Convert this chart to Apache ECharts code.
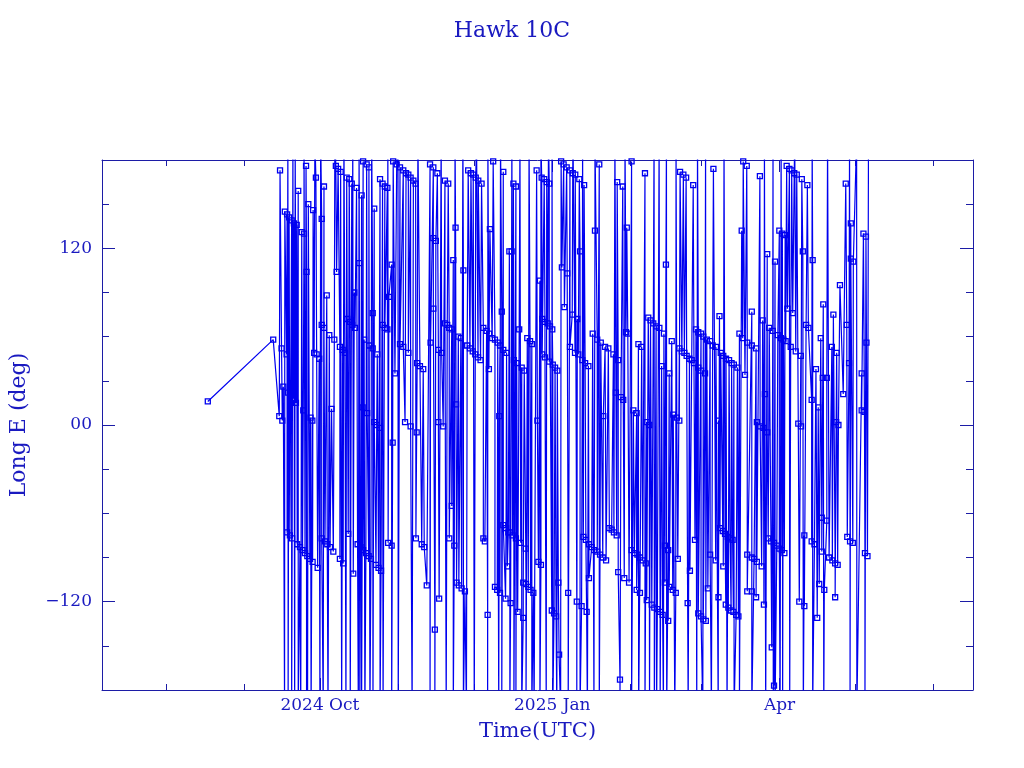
<!DOCTYPE html>
<html>
<head>
<meta charset="utf-8">
<script src="https://cdn.jsdelivr.net/npm/echarts@6/dist/echarts.min.js"></script>
<style>html,body{margin:0;padding:0;background:#fff}#c{width:1024px;height:768px}</style>
</head>
<body>
<div id="c"></div>
<script>
// Days are counted from 2024-10-01 00:00 UTC; longitudes in degrees East.
const markerDays = [
-44.4,-18.5,-16.1,-14.9,-15.8,-15.2,-14.5,-13.9,-13.2,-13.0,-13.0,-12.6,-12.2,-11.9,-11.6,-11.2,-11.0,-10.6,-10.3,-9.5,
-9.2,-9.0,-8.6,-7.9,-7.2,-6.9,-6.6,-6.3,-5.9,-5.5,-5.3,-5.0,-4.6,-4.0,-3.7,-3.0,-2.9,-2.7,-2.3,-1.6,
-1.3,-0.9,-0.3,0.7,0.7,0.7,1.6,1.6,2.0,2.7,2.9,3.7,4.0,4.6,5.3,5.7,6.3,6.6,7.2,7.9,
7.9,8.2,9.0,9.2,9.9,10.6,10.8,11.2,11.6,11.9,12.6,12.8,13.2,13.6,13.9,14.5,14.9,15.6,16.1,16.5,
16.9,17.1,17.1,17.5,18.2,18.5,18.7,19.3,19.4,19.5,20.2,20.9,20.9,21.5,21.5,22.2,22.5,22.7,23.2,23.8,
23.8,24.2,24.8,24.8,25.7,25.7,26.7,26.7,27.0,27.3,28.4,28.4,28.8,29.0,29.7,30.4,31.7,31.7,33.0,33.0,
33.7,34.1,35.0,35.0,35.9,35.9,37.0,37.9,38.0,38.3,38.5,39.6,40.3,40.9,41.3,42.3,43.6,43.8,44.9,44.9,
44.9,45.5,45.9,46.5,46.9,46.9,47.2,48.2,48.8,49.5,49.5,50.4,50.8,51.2,51.2,52.2,52.2,52.8,53.2,53.7,
53.9,54.1,54.8,55.0,55.8,56.1,56.8,57.4,58.3,58.7,59.4,59.8,60.5,60.7,61.5,61.7,62.6,62.7,63.6,64.0,
64.7,64.7,65.3,66.0,66.4,66.9,67.0,67.3,68.2,68.6,69.3,69.3,70.2,70.4,71.0,71.3,71.3,72.0,72.6,72.6,
72.6,73.5,73.7,73.9,74.2,74.6,75.0,75.2,75.5,75.9,76.3,76.6,76.8,77.6,77.6,77.9,78.3,78.9,79.5,79.9,
80.5,80.5,80.9,81.5,81.6,82.1,82.5,83.2,83.4,83.9,84.5,85.8,86.1,86.5,87.1,87.5,87.8,88.0,88.0,88.8,
89.1,89.1,89.8,90.2,90.8,90.8,91.1,91.8,92.0,92.2,92.7,93.1,93.5,94.0,94.4,94.7,95.5,95.8,96.5,96.8,
97.7,97.9,98.3,99.0,99.0,99.9,100.1,101.0,101.1,101.7,101.9,102.3,102.7,103.0,103.6,103.9,104.3,104.6,105.0,105.3,
105.6,106.3,106.5,106.5,107.6,108.0,108.6,108.9,109.8,109.8,110.6,110.9,111.2,112.0,112.2,112.9,113.3,114.2,114.6,115.5,
116.2,116.4,117.2,117.5,117.7,118.1,118.1,118.8,119.2,119.9,120.1,120.5,121.2,121.5,121.9,122.4,123.4,123.4,124.1,124.5,
125.4,125.4,125.7,126.1,126.7,126.7,127.4,127.8,128.7,129.0,129.4,129.4,130.0,130.4,130.9,131.4,132.0,132.4,133.1,133.6,
134.4,134.7,135.3,135.7,136.2,136.6,136.6,137.0,137.9,137.9,138.3,138.3,139.3,139.7,139.9,140.9,141.3,141.7,142.3,142.3,
142.6,143.3,143.9,144.3,145.0,145.2,145.6,146.3,146.5,147.2,147.8,148.1,148.5,148.9,149.8,149.8,149.8,150.9,150.9,150.9,
151.8,151.8,152.5,152.8,153.2,153.6,154.5,154.5,155.5,155.8,156.7,156.8,157.8,157.8,158.2,158.4,158.7,159.5,159.7,159.7,
160.4,160.7,160.8,161.5,161.7,162.0,162.4,162.8,163.0,163.4,163.7,163.9,164.8,165.3,165.7,166.1,167.0,167.4,167.6,168.3,
169.0,169.2,169.2,169.2,171.0,171.0,171.0,171.0,171.9,172.7,172.7,173.0,173.0,174.2,174.3,174.9,175.3,175.6,175.8,176.2,
177.1,177.1,177.5,177.9,178.6,178.9,179.3,179.8,179.8,180.2,180.9,181.3,181.9,181.9,182.5,182.9,183.1,183.5,183.9,184.2,
184.4,184.8,185.1,185.9,186.4,186.8,187.2,187.8,188.4,188.8,189.4,189.8,190.4,190.5,190.8,191.2,191.8,191.8,192.5,193.0,
193.4,194.7,194.7,195.1,195.8,196.4,196.9,197.3,197.7,198.3,198.7,198.7,199.1,199.3,199.7,200.7,200.7,201.6,202.7,202.9,
203.3,204.0,204.0,204.4,204.6,205.0,205.3,205.9,207.2,208.2,208.6,208.8,209.5,209.9,210.2,210.2,211.0,211.2,214.5,214.5,
215.2,215.6,215.8,216.2,216.4,216.8
];
const markerLon = [
16,58,6,3,173,52,26,145,48,143,-73,22,141,-75,20,139,-77,18,137,15,
136,-81,159,-83,131,-85,10,130,-87,176,104,-89,150,-91,5,3,-93,146,49,168,
48,-97,45,140,68,-77,162,66,-79,88,-81,61,-83,11,-86,58,176,104,174,53,
-91,172,51,-94,49,168,72,-74,167,70,164,68,-101,90,66,161,-81,110,-83,156,
12,179,-85,58,-87,177,8,-89,175,54,-91,76,52,147,2,-95,0,48,-97,167,
-2,-99,164,68,162,66,161,65,-80,87,109,-82,-12,179,35,177,175,55,173,53,
2,171,170,49,168,-1,166,164,-77,-5,42,40,-81,38,-83,-109,177,56,175,127,
79,-139,125,171,51,2,-118,49,-1,166,69,68,164,66,-77,65,-55,112,-82,134,
14,-107,60,-109,59,-111,105,-113,54,173,52,171,50,170,48,168,46,166,44,164,
66,-77,-79,64,-129,38,62,133,59,179,58,-110,-112,56,6,54,-114,77,172,51,
-68,-118,-70,49,-96,-73,118,-73,-121,118,-75,164,44,162,-77,42,-127,65,-80,39,
-131,-107,37,-84,-108,59,-110,57,-112,55,-114,173,3,-93,98,-95,168,72,48,167,
70,46,165,69,164,43,67,-126,65,41,-128,39,-130,37,-107,-156,179,107,177,80,
175,103,-114,173,53,75,171,49,170,-120,72,48,167,118,-123,44,-76,163,42,-78,
-127,40,-81,-104,-83,62,-85,132,58,-86,177,-88,56,-90,6,53,-92,52,-70,-71,
48,-73,22,-75,165,44,-100,-173,19,162,17,-104,63,134,62,-107,179,-85,10,-87,
8,-112,-88,55,-90,-114,53,-92,171,-94,2,-119,73,0,71,-122,69,-124,67,-125,
66,-127,40,-129,62,-82,-107,109,-85,-133,35,-110,57,-112,7,-114,5,-91,52,3,
172,50,170,49,168,47,-121,45,-99,44,163,42,-78,65,63,39,-128,62,37,-130,
60,-132,35,-133,58,-111,57,-88,54,174,-92,53,3,-117,74,-70,49,-72,47,-96,
-74,-122,45,-76,-124,44,-77,-126,42,-78,-127,41,-129,39,-130,62,132,59,179,34,
176,56,-88,-113,77,54,-90,-113,-91,52,-117,2,-93,169,-1,-96,71,-2,-122,21,
116,-5,-77,66,-79,-151,64,-80,-177,111,-82,61,132,-84,59,-85,130,58,-87,129,
57,176,79,174,53,173,76,171,50,170,1,-120,47,-1,167,118,-75,-123,68,163,
66,17,-79,112,-81,38,-131,12,-108,59,-63,-86,32,82,-112,-65,32,-90,53,-92,
75,-94,-117,2,49,-95,0,95,21,164,68,-76,42,-79,137,113,-80,111,35,10,
130,9,-87,128,56,-89
];
// Lines that run out through the bottom or top edge of the frame (values beyond the axis range).
const edgeDays = [
-12.6,-11.2,-8.6,-7.6,-5.3,-4.9,0.0,1.3,8.6,15.2,15.8,16.5,19.8,23.8,28.4,31.0,43.6,45.5,52.8,56.8,
61.1,66.4,72.0,75.2,76.8,77.6,79.9,81.6,83.9,85.1,87.1,92.2,95.3,98.3,101.7,103.0,108.5,110.6,118.8,123.4,
128.7,132.4,133.3,134.7,136.0,137.3,149.2,151.6,157.7,166.1,171.0,179.5,180.2,182.2,183.2,191.4,195.1,209.9,212.6,215.8,
-14.0,-10.0,-3.5,3.2,10.3,12.0,17.8,21.0,25.0,36.5,50.0,58.0,70.8,84.8,89.6,93.8,105.9,126.2,130.5,140.5,
145.8,155.0,161.2,164.0,176.5,186.0,199.5,
-12.7,-10.7,-6.3,0.3,5.9,15.5,26.9,30.9,53.5,56.6,66.5,76.0,79.2,87.5,91.9,100.2,108.9,120.8,132.3,134.3,
137.2,149.5,152.7,179.4,182.6,194.9,209.7,212.5,217.2,
-9.8,-2.0,9.5,13.0,20.5,38.8,48.0,62.0,71.5,82.8,90.5,104.0,116.8,141.0,160.0,176.0,188.0,201.0
];
const edgeLon = [
-195,-195,-195,-195,-195,-195,-195,-195,-195,-195,-195,-195,-195,-195,-195,-195,-195,-195,-195,-195,
-195,-195,-195,-195,-195,-195,-195,-195,-195,-195,-195,-195,-195,-195,-195,-195,-195,-195,-195,-195,
-195,-195,-195,-195,-195,-195,-195,-195,-195,-195,-195,-195,-195,-195,-195,-195,-195,-195,-195,-195,
-195,-195,-195,-195,-195,-195,-195,-195,-195,-195,-195,-195,-195,-195,-195,-195,-195,-195,-195,-195,
-195,-195,-195,-195,-195,-195,-195,
195,195,195,195,195,195,195,195,195,195,195,195,195,195,195,195,195,195,195,195,
195,195,195,195,195,195,195,195,195,
195,195,195,195,195,195,195,195,195,195,195,195,195,195,195,195,195,195
];
const monthTicks = ['2024-08-01','2024-09-01','2024-10-01','2024-11-01','2024-12-01','2025-01-01',
  '2025-02-01','2025-03-01','2025-04-01','2025-05-01','2025-06-01'];
const xLabelDates = ['2024-10-01','2025-01-01','2025-04-01'];
const xLabelTexts = ['2024 Oct','2025 Jan','Apr'];
const yLabelValues = [-120, 0, 120];
const yLabelTexts = ['\u2212120', '00', '120'];

const DAY = 86400000;
const EPOCH = Date.UTC(2024, 9, 1);
const toT = s => Date.parse(s + 'T00:00:00Z');
const pts = [];
markerDays.forEach((d, i) => pts.push([EPOCH + d * DAY, markerLon[i]]));
edgeDays.forEach((d, i) => pts.push([EPOCH + d * DAY, edgeLon[i]]));
pts.sort((a, b) => a[0] - b[0]);

const FRAME = '#1c1ca6';
const TEXT = '#1a1ac0';
const DATA = '#0000f0';
const FONT = 'DejaVu Serif';
const xMin = Date.UTC(2024, 6, 6, 17);
const xMax = Date.UTC(2025, 5, 16, 14);
const mTicks = monthTicks.map(toT);
const lTicks = xLabelDates.map(toT);
const xLabelMap = {};
lTicks.forEach((t, i) => { xLabelMap[t] = xLabelTexts[i]; });
const yLabelMap = {};
yLabelValues.forEach((v, i) => { yLabelMap[v] = yLabelTexts[i]; });

function xAx(pos, ticks, len, line, labels) {
  const a = {
    type: 'value', position: pos, min: xMin, max: xMax, gridIndex: 0, scale: true,
    axisLine: { show: line, onZero: false, lineStyle: { color: FRAME, width: 1 } },
    axisTick: { show: true, inside: true, length: len, customValues: ticks, lineStyle: { color: FRAME, width: 1 } },
    axisLabel: { show: false },
    splitLine: { show: false }, minorTick: { show: false }
  };
  if (labels) {
    a.axisLabel = {
      show: true, customValues: lTicks, margin: 7, color: TEXT, fontFamily: FONT, fontSize: 17,
      formatter: v => xLabelMap[v] || ''
    };
    a.name = 'Time(UTC)';
    a.nameLocation = 'middle';
    a.nameGap = 31;
    a.nameTextStyle = { color: TEXT, fontFamily: FONT, fontSize: 21 };
  }
  return a;
}
function yAx(pos, len, line, labels, custom) {
  const a = {
    type: 'value', position: pos, min: -180, max: 180, interval: 30,
    axisLine: { show: line, onZero: false, lineStyle: { color: FRAME, width: 1 } },
    axisTick: { show: true, inside: true, length: len, lineStyle: { color: FRAME, width: 1 } },
    axisLabel: { show: false },
    splitLine: { show: false }
  };
  if (custom) a.axisTick.customValues = yLabelValues;
  if (labels) {
    a.axisLabel = {
      show: true, customValues: yLabelValues, margin: 10, color: TEXT, fontFamily: FONT, fontSize: 17,
      formatter: v => yLabelMap[v] !== undefined ? yLabelMap[v] : ''
    };
    a.name = 'Long E (deg)';
    a.nameLocation = 'middle';
    a.nameGap = 72;
    a.nameTextStyle = { color: TEXT, fontFamily: FONT, fontSize: 22 };
  }
  return a;
}

const chart = echarts.init(document.getElementById('c'), null, { renderer: 'canvas' });
chart.setOption({
  animation: false,
  backgroundColor: '#ffffff',
  title: {
    text: 'Hawk 10C', left: 'center', top: 15,
    textStyle: { color: TEXT, fontFamily: FONT, fontSize: 22, fontWeight: 'normal' }
  },
  grid: { left: 102, right: 51, top: 160, bottom: 78, containLabel: false },
  xAxis: [
    xAx('bottom', mTicks, 6, true, true),
    xAx('bottom', lTicks, 12, false, false),
    xAx('top', mTicks, 6, true, false),
    xAx('top', lTicks, 12, false, false)
  ],
  yAxis: [
    yAx('left', 7, true, true, false),
    yAx('left', 13, false, false, true),
    yAx('right', 7, true, false, false),
    yAx('right', 13, false, false, true)
  ],
  series: [{
    type: 'line',
    xAxisIndex: 0, yAxisIndex: 0,
    data: pts,
    clip: true,
    symbol: v => (Math.abs(v[1]) > 180 ? 'none' : 'rect'),
    symbolSize: 5,
    showSymbol: true,
    lineStyle: { color: DATA, width: 1.2 },
    itemStyle: { color: 'rgba(0,0,0,0)', borderColor: DATA, borderWidth: 1.3 },
    emphasis: { disabled: true }
  }]
});
</script>
</body>
</html>
